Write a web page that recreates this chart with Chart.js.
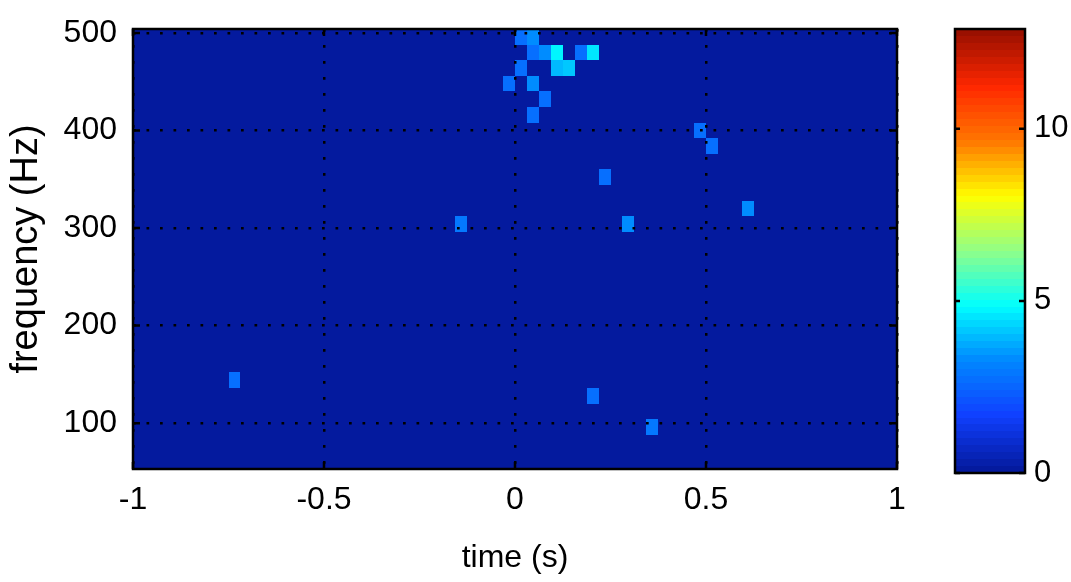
<!doctype html>
<html lang="en">
<head>
    <meta charset="utf-8">
    <title>Spectrogram</title>
    <script src="https://cdn.jsdelivr.net/npm/chart.js@4"></script>
    <style>
        body { margin: 0; background: #fff; }
        #wrap { position: relative; width: 1071px; height: 582px; }
        #peta { position: absolute; left: 0; top: 0; }
        #skala { position: absolute; left: 930px; top: 0; }
    </style>
</head>
<body>
<div id="wrap">
    <canvas id="peta" width="940" height="582"></canvas>
    <canvas id="skala" width="141" height="582"></canvas>
</div>
<script>
// axes
var timeRange = [-1, 1];          // s
var freqRange = [53, 504];        // Hz
var timeTicks = [-1, -0.5, 0, 0.5, 1];
var freqTicks = [100, 200, 300, 400, 500];
var colorTicks = [0, 5, 10];
var colorMax = 12.9;
var nColors = 64;

// bins of the spectrogram
var binWidth = 1 / 32;   // s
var binHeight = 16;      // Hz
var baseLevel = 0.1;     // level of every bin not listed below

// bins that stand out (centre time, centre frequency, level)
var cellTime = [0.015625, 0.046875, 0.046875, 0.078125, 0.109375, 0.171875, 0.203125,
                0.015625, 0.109375, 0.140625, -0.015625, 0.046875, 0.078125, 0.046875,
                0.484375, 0.515625, 0.234375, 0.609375, 0.296875, -0.140625,
                -0.734375, 0.203125, 0.359375];
var cellFreq = [496, 496, 480, 480, 480, 480, 480,
                464, 464, 464, 448, 448, 432, 416,
                400, 384, 352, 320, 304, 304,
                144, 128, 96];
var cellValue = [2.7, 3.3, 2.7, 3.3, 4.7, 2.7, 4.5,
                 2.7, 4.0, 4.2, 2.7, 3.3, 2.7, 2.7,
                 2.7, 2.7, 2.7, 3.4, 3.3, 3.0,
                 2.7, 2.7, 3.0];

// jet-like colour map as it looks in the picture
var jetStops = [0, 0.125, 0.25, 0.375, 0.5, 0.625, 0.75, 0.875, 1];
var jetColors = ['#041a9e', '#1040ff', '#0088ff', '#00ffff', '#90ff88', '#ffff00', '#ff7800', '#ff2800', '#9a1000'];

var fontFamily = "'Liberation Sans', Arial, sans-serif";

function hexRgb(h) {
    return [parseInt(h.substr(1, 2), 16), parseInt(h.substr(3, 2), 16), parseInt(h.substr(5, 2), 16)];
}
function jetColor(f) {
    for (var i = 1; i < jetStops.length; i++) {
        if (f <= jetStops[i]) {
            var a = hexRgb(jetColors[i - 1]), b = hexRgb(jetColors[i]);
            var t = (f - jetStops[i - 1]) / (jetStops[i] - jetStops[i - 1]);
            return 'rgb(' + [0, 1, 2].map(function (k) { return Math.round(a[k] + (b[k] - a[k]) * t); }).join(',') + ')';
        }
    }
    return jetColors[jetColors.length - 1];
}
function levelColor(v) {
    var idx = Math.min(nColors - 1, Math.max(0, Math.floor(v / colorMax * nColors)));
    return jetColor(idx / (nColors - 1));
}

var cells = cellTime.map(function (t, i) {
    return { x: t, y: cellFreq[i], v: cellValue[i] };
});

// draws the image cells under the grid
var gambarSel = {
    id: 'gambarSel',
    beforeDraw: function (chart) {
        var ctx = chart.ctx, a = chart.chartArea;
        var xs = chart.scales.x, ys = chart.scales.y;
        ctx.save();
        ctx.beginPath();
        ctx.rect(a.left, a.top, a.right - a.left, a.bottom - a.top);
        ctx.clip();
        ctx.fillStyle = levelColor(baseLevel);
        ctx.fillRect(a.left, a.top, a.right - a.left, a.bottom - a.top);
        chart.data.datasets[0].data.forEach(function (c) {
            var x0 = Math.round(xs.getPixelForValue(c.x - binWidth / 2));
            var x1 = Math.round(xs.getPixelForValue(c.x + binWidth / 2));
            var y0 = Math.round(ys.getPixelForValue(c.y + binHeight / 2));
            var y1 = Math.round(ys.getPixelForValue(c.y - binHeight / 2));
            ctx.fillStyle = levelColor(c.v);
            ctx.fillRect(x0, y0, x1 - x0, y1 - y0);
        });
        ctx.restore();
    },
    afterDraw: function (chart) {
        var ctx = chart.ctx, a = chart.chartArea;
        var xs = chart.scales.x, ys = chart.scales.y;
        ctx.save();
        ctx.strokeStyle = '#000';
        ctx.lineWidth = 2.5;
        ctx.strokeRect(a.left, a.top, a.right - a.left, a.bottom - a.top);
        ctx.beginPath();
        timeTicks.forEach(function (v) {
            var px = xs.getPixelForValue(v);
            ctx.moveTo(px, a.bottom); ctx.lineTo(px, a.bottom - 7);
            ctx.moveTo(px, a.top); ctx.lineTo(px, a.top + 7);
        });
        freqTicks.forEach(function (v) {
            var py = ys.getPixelForValue(v);
            ctx.moveTo(a.left, py); ctx.lineTo(a.left + 7, py);
            ctx.moveTo(a.right, py); ctx.lineTo(a.right - 7, py);
        });
        ctx.stroke();
        ctx.restore();
    }
};

var petaChart = new Chart(document.getElementById('peta'), {
    type: 'scatter',
    data: { datasets: [{ data: cells, pointRadius: 0, pointHoverRadius: 0 }] },
    options: {
        responsive: false,
        animation: false,
        events: [],
        layout: { padding: { left: 0, top: 29, right: 43, bottom: 0 } },
        plugins: { legend: { display: false }, tooltip: { enabled: false } },
        scales: {
            x: {
                type: 'linear',
                min: timeRange[0],
                max: timeRange[1],
                afterBuildTicks: function (s) { s.ticks = timeTicks.map(function (v) { return { value: v }; }); },
                afterFit: function (s) { s.height = 113; s.paddingLeft = 0; s.paddingRight = 0; },
                grid: { color: '#000', lineWidth: 2.5, drawTicks: false },
                border: { display: false, dash: [2.7, 13.3] },
                ticks: {
                    color: '#000', padding: 12, maxRotation: 0,
                    font: { family: fontFamily, size: 32 },
                    callback: function (v) { return String(v); }
                },
                title: {
                    display: true, text: 'time (s)', color: '#000',
                    font: { family: fontFamily, size: 32 },
                    padding: { top: 0, bottom: 5 }
                }
            },
            y: {
                type: 'linear',
                min: freqRange[0],
                max: freqRange[1],
                afterBuildTicks: function (s) { s.ticks = freqTicks.map(function (v) { return { value: v }; }); },
                afterFit: function (s) { s.width = 133; s.paddingTop = 0; s.paddingBottom = 0; },
                grid: { color: '#000', lineWidth: 2.5, drawTicks: false },
                border: { display: false, dash: [2.7, 10.8] },
                ticks: {
                    color: '#000', padding: 16,
                    font: { family: fontFamily, size: 32 },
                    callback: function (v) { return String(v); }
                },
                title: {
                    display: true, text: 'frequency (Hz)', color: '#000',
                    font: { family: fontFamily, size: 38 },
                    padding: { top: 4, bottom: 0 }
                }
            }
        }
    },
    plugins: [gambarSel]
});

// colour bar
var bands = [];
for (var i = 0; i < nColors; i++) {
    bands.push({ x: 0.5, y: (i + 0.5) * colorMax / nColors, v: (i + 0.5) * colorMax / nColors });
}

var gambarSkala = {
    id: 'gambarSkala',
    beforeDraw: function (chart) {
        var ctx = chart.ctx, a = chart.chartArea, ys = chart.scales.y;
        var h = colorMax / nColors;
        ctx.save();
        chart.data.datasets[0].data.forEach(function (b) {
            var y0 = Math.round(ys.getPixelForValue(b.y + h / 2));
            var y1 = Math.round(ys.getPixelForValue(b.y - h / 2));
            ctx.fillStyle = levelColor(b.v);
            ctx.fillRect(a.left, y0, a.right - a.left, y1 - y0);
        });
        ctx.restore();
    },
    afterDraw: function (chart) {
        var ctx = chart.ctx, a = chart.chartArea, ys = chart.scales.y;
        ctx.save();
        ctx.strokeStyle = '#000';
        ctx.lineWidth = 2.5;
        ctx.strokeRect(a.left, a.top, a.right - a.left, a.bottom - a.top);
        ctx.beginPath();
        colorTicks.forEach(function (v) {
            var py = ys.getPixelForValue(v);
            ctx.moveTo(a.left, py); ctx.lineTo(a.left + 5, py);
            ctx.moveTo(a.right, py); ctx.lineTo(a.right - 6, py);
        });
        ctx.stroke();
        ctx.restore();
    }
};

var skalaChart = new Chart(document.getElementById('skala'), {
    type: 'scatter',
    data: { datasets: [{ data: bands, pointRadius: 0, pointHoverRadius: 0 }] },
    options: {
        responsive: false,
        animation: false,
        events: [],
        layout: { padding: { left: 25, top: 29, right: 0, bottom: 109 } },
        plugins: { legend: { display: false }, tooltip: { enabled: false } },
        scales: {
            x: { type: 'linear', display: false, min: 0, max: 1 },
            y: {
                type: 'linear',
                position: 'right',
                min: 0,
                max: colorMax,
                afterBuildTicks: function (s) { s.ticks = colorTicks.map(function (v) { return { value: v }; }); },
                afterFit: function (s) { s.width = 46; s.paddingTop = 0; s.paddingBottom = 0; },
                grid: { display: false, drawTicks: false },
                border: { display: false },
                ticks: {
                    color: '#000', padding: 9,
                    font: { family: fontFamily, size: 31 },
                    callback: function (v) { return String(v); }
                }
            }
        }
    },
    plugins: [gambarSkala]
});
</script>
</body>
</html>
